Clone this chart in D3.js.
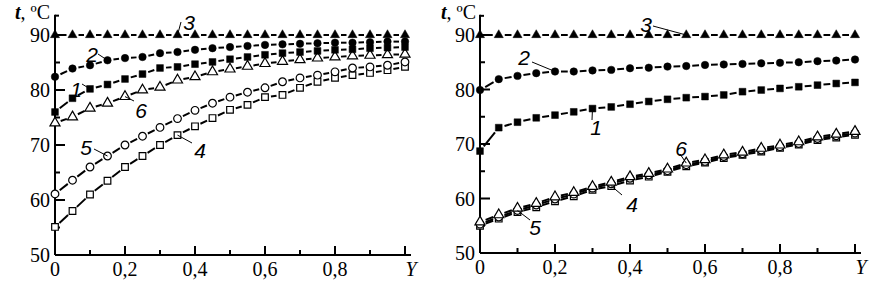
<!DOCTYPE html>
<html>
<head>
<meta charset="utf-8">
<script src="https://cdn.jsdelivr.net/npm/d3@7"></script>
<style>
  body { margin: 0; background: #fff; }
  svg { display: block; }
  .tick-label { font-family: "Liberation Serif", "DejaVu Serif", serif; font-size: 20px; fill: #000; }
  .curve-label { font-family: "Liberation Sans", Arial, sans-serif; font-style: italic; font-size: 21px; fill: #000; }
</style>
</head>
<body>
<div id="chart"></div>
<script>
// data
var yFrac = [0, 0.05, 0.1, 0.15, 0.2, 0.25, 0.3, 0.35, 0.4, 0.45, 0.5,
             0.55, 0.6, 0.65, 0.7, 0.75, 0.8, 0.85, 0.9, 0.95, 1.0];
var xTickVals = [0, 0.2, 0.4, 0.6, 0.8, 1.0];
var xTickLabels = ['0', '0,2', '0,4', '0,6', '0,8', 'Y'];
var yTickVals = [50, 60, 70, 80, 90];

// left panel
var left1 = [76.0, 78.5, 80.2, 81.0, 82.0, 82.9, 84.0, 84.2, 84.7, 85.1, 85.6, 86.0, 86.4, 86.7, 86.9, 87.1, 87.3, 87.4, 87.6, 87.7, 87.8];
var left2 = [82.4, 83.9, 84.5, 85.4, 85.8, 86.0, 86.7, 86.9, 87.3, 87.6, 87.8, 88.0, 88.2, 88.3, 88.4, 88.5, 88.6, 88.6, 88.7, 88.8, 88.8];
var left3 = [90, 90, 90, 90, 90, 90, 90, 90, 90, 90, 90, 90, 90, 90, 90, 90, 90, 90, 90, 90, 90];
var left4 = [55.1, 58.0, 61.0, 63.5, 66.0, 68.0, 70.0, 71.8, 73.4, 74.9, 76.4, 77.3, 78.7, 79.1, 80.4, 81.5, 82.2, 82.7, 83.1, 83.6, 84.2];
var left5 = [61.1, 63.6, 66.0, 68.0, 70.0, 71.6, 73.2, 74.8, 76.3, 77.6, 78.7, 79.6, 80.4, 81.5, 82.2, 82.7, 83.3, 84.0, 84.2, 84.5, 85.1];
var left6 = [74.0, 75.1, 76.7, 77.6, 78.8, 80.0, 80.5, 81.8, 82.4, 83.3, 83.8, 84.3, 84.8, 85.2, 85.5, 85.8, 86.0, 86.2, 86.3, 86.4, 86.5];

// right panel
var right1 = [68.7, 73.0, 74.0, 74.8, 75.3, 75.9, 76.5, 76.8, 77.3, 77.8, 78.2, 78.5, 78.7, 79.0, 79.6, 79.9, 80.2, 80.5, 80.8, 81.1, 81.3];
var right2 = [79.9, 81.9, 82.5, 83.0, 83.3, 83.3, 83.5, 83.6, 83.9, 84.0, 84.2, 84.3, 84.5, 84.6, 84.7, 84.8, 84.9, 85.0, 85.2, 85.3, 85.5];
var right3 = [90, 90, 90, 90, 90, 90, 90, 90, 90, 90, 90, 90, 90, 90, 90, 90, 90, 90, 90, 90, 90];
var right4 = [55.0, 56.3, 57.5, 58.4, 59.5, 60.4, 61.6, 62.3, 63.3, 64.0, 64.9, 65.9, 66.6, 67.4, 68.0, 68.6, 69.3, 69.9, 70.7, 71.2, 71.7];
var right5 = [55.3, 56.6, 57.8, 58.8, 59.9, 60.8, 61.9, 62.7, 63.7, 64.3, 65.1, 66.2, 66.8, 67.7, 68.2, 68.9, 69.5, 70.1, 71.0, 71.5, 72.0];
var right6 = [55.7, 57.0, 58.2, 59.1, 60.3, 61.1, 62.2, 63.0, 64.0, 64.6, 65.4, 66.5, 67.1, 68.0, 68.5, 69.2, 69.8, 70.4, 71.3, 71.8, 72.3];

// marker style per curve number
var markers = {
    1: {type: d3.symbolSquare, size: 46, fill: '#000'},
    2: {type: d3.symbolCircle, size: 44, fill: '#000'},
    3: {type: d3.symbolTriangle, size: 36, fill: '#000'},
    4: {type: d3.symbolSquare, size: 44, fill: '#fff'},
    5: {type: d3.symbolCircle, size: 46, fill: '#fff'},
    6: {type: d3.symbolTriangle, size: 44, fill: '#fff'}
};

var panels = [
    {x0: 55, x1: 405, y50: 255, y90: 35,
     series: {1: left1, 2: left2, 3: left3, 4: left4, 5: left5, 6: left6},
     order: [4, 5, 6, 1, 2, 3],
     // [curve, label x, label y, leader start, data index the leader points to]
     labels: [[3, 189, 30, [181, 22], 7], [2, 92, 62, [98, 54], 3], [1, 76, 97, [82, 84], 2],
              [6, 141, 118, [134, 101], 4], [5, 86, 155, [94, 149], 3], [4, 200, 158, [192, 143], 7]],
     tLabelX: 50},
    {x0: 480, x1: 855, y50: 253, y90: 35,
     series: {1: right1, 2: right2, 3: right3, 4: right4, 5: right5, 6: right6},
     order: [1, 2, 3, 4, 5, 6],
     labels: [[3, 646, 32, [653, 26], 11], [2, 524, 65, [532, 62], 4], [1, 596, 135, [592, 120], 6],
              [6, 681, 156, [680, 154], 11], [4, 632, 212, [622, 195], 7], [5, 535, 235, [530, 220], 2]],
     tLabelX: 476}
];

var svg = d3.select('#chart').append('svg')
    .attr('width', 884)
    .attr('height', 284);

panels.forEach(function(p) {
    var x = d3.scaleLinear().domain([0, 1]).range([p.x0, p.x1]);
    var y = d3.scaleLinear().domain([50, 90]).range([p.y50, p.y90]);
    var g = svg.append('g');

    // axis lines
    g.append('line')
        .attr('x1', x(0)).attr('x2', x(1) + 6)
        .attr('y1', y(50)).attr('y2', y(50))
        .attr('stroke', '#000').attr('stroke-width', 2);
    g.append('line')
        .attr('x1', x(0)).attr('x2', x(0))
        .attr('y1', y(50)).attr('y2', y(93.7))
        .attr('stroke', '#000').attr('stroke-width', 2);
    // little cap at the top of the t axis
    g.append('line')
        .attr('x1', x(0)).attr('x2', x(0) + 4)
        .attr('y1', y(93.7) + 1).attr('y2', y(93.7) + 1)
        .attr('stroke', '#000').attr('stroke-width', 2);

    // x ticks pointing up, minor ones in between
    d3.range(1, 11).forEach(function(i) {
        var major = i % 2 == 0;
        g.append('line')
            .attr('x1', x(i / 10)).attr('x2', x(i / 10))
            .attr('y1', y(50)).attr('y2', y(50) - (major ? 9 : 5))
            .attr('stroke', '#000').attr('stroke-width', 2);
    });
    // y ticks pointing right
    d3.range(50, 91, 5).forEach(function(v) {
        var major = v % 10 == 0;
        g.append('line')
            .attr('x1', x(0)).attr('x2', x(0) + (major ? 10 : 5))
            .attr('y1', y(v)).attr('y2', y(v))
            .attr('stroke', '#000').attr('stroke-width', 2);
    });

    g.selectAll('.xlab')
        .data(xTickVals)
        .join('text')
        .attr('class', 'tick-label')
        .attr('x', function(d, i) { return i == 5 ? x(d) + 6 : x(d); })
        .attr('y', y(50) + 21)
        .attr('text-anchor', 'middle')
        .style('font-style', function(d, i) { return i == 5 ? 'italic' : 'normal'; })
        .text(function(d, i) { return xTickLabels[i]; });

    g.selectAll('.ylab')
        .data(yTickVals)
        .join('text')
        .attr('class', 'tick-label')
        .attr('x', x(0) - 5)
        .attr('y', function(d) { return y(d) + 7; })
        .attr('text-anchor', 'end')
        .text(function(d) { return d; });

    // axis title t, ºC
    var tt = g.append('text')
        .attr('class', 'tick-label')
        .attr('x', p.tLabelX)
        .attr('y', 19)
        .attr('text-anchor', 'end');
    tt.append('tspan').style('font-style', 'italic').style('font-weight', 'bold').text('t');
    tt.append('tspan').text(', ºC');

    // lines: short segments between markers, leaving a gap round each marker
    var gap = 6;
    p.order.forEach(function(k) {
        var vals = p.series[k];
        for (var i = 0; i < vals.length - 1; i++) {
            var ax = x(yFrac[i]), ay = y(vals[i]);
            var bx = x(yFrac[i + 1]), by = y(vals[i + 1]);
            var len = Math.hypot(bx - ax, by - ay);
            if (len <= gap * 2) continue;
            var ux = (bx - ax) / len, uy = (by - ay) / len;
            g.append('line')
                .attr('x1', ax + ux * gap).attr('y1', ay + uy * gap)
                .attr('x2', bx - ux * gap).attr('y2', by - uy * gap)
                .attr('stroke', '#000').attr('stroke-width', 2);
        }
    });

    // markers
    p.order.forEach(function(k) {
        var m = markers[k];
        g.selectAll('.m' + k)
            .data(p.series[k])
            .join('path')
            .attr('d', d3.symbol().type(m.type).size(m.size))
            .attr('transform', function(d, i) { return `translate(${x(yFrac[i])},${y(d)})`; })
            .attr('fill', m.fill)
            .attr('stroke', '#000')
            .attr('stroke-width', m.fill == '#000' ? 0.5 : 1.2);
    });

    // curve numbers with leader lines
    p.labels.forEach(function(l) {
        var k = l[0], idx = l[4];
        g.append('line')
            .attr('x1', l[3][0]).attr('y1', l[3][1])
            .attr('x2', x(yFrac[idx])).attr('y2', y(p.series[k][idx]))
            .attr('stroke', '#000').attr('stroke-width', 1);
        g.append('text')
            .attr('class', 'curve-label')
            .attr('x', l[1]).attr('y', l[2])
            .attr('text-anchor', 'middle')
            .text(k);
    });
});
</script>
</body>
</html>
